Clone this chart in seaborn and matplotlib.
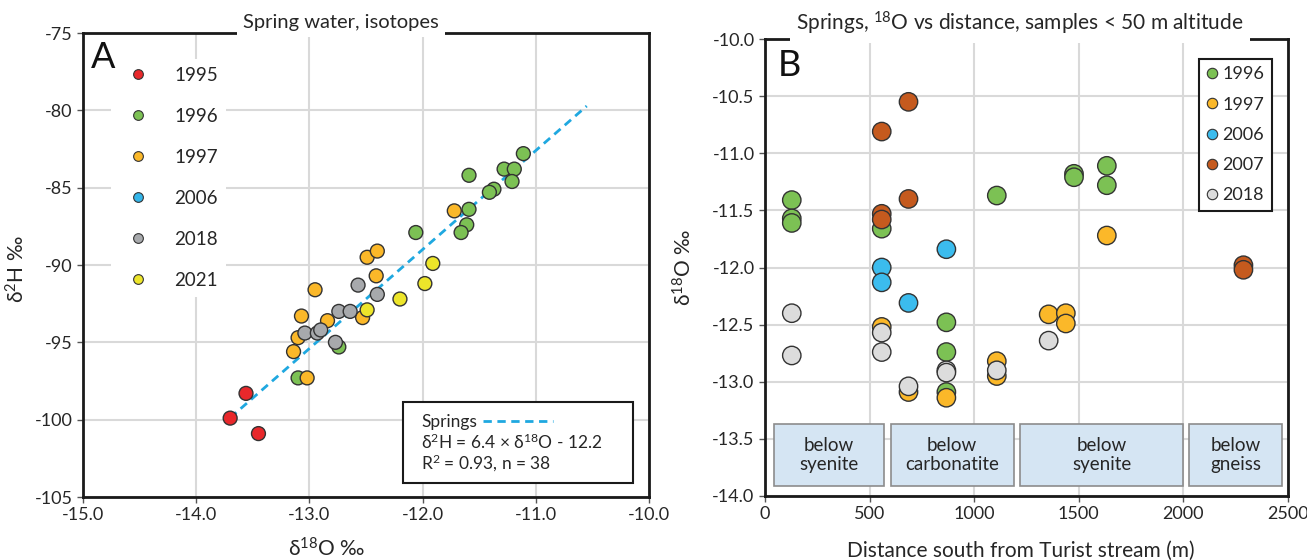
import matplotlib
matplotlib.use('Agg')
import matplotlib.pyplot as plt
from matplotlib.patches import Rectangle
from matplotlib.lines import Line2D
from matplotlib.ticker import FormatStrFormatter, MultipleLocator
import seaborn as sns
import pandas as pd

# ---- panel A: spring water isotopes (d18O vs d2H) ----
o18_1995 = [-13.70, -13.56, -13.45]
h2_1995 = [-99.9, -98.3, -100.9]
o18_1996 = [-11.11, -11.28, -11.19, -11.21, -11.59, -11.37, -11.41, -11.59, -11.61, -11.66, -12.06, -12.74, -13.10]
h2_1996 = [-82.8, -83.8, -83.8, -84.6, -84.2, -85.1, -85.3, -86.4, -87.4, -87.9, -87.9, -95.3, -97.3]
o18_1997 = [-11.72, -12.49, -12.40, -12.41, -12.95, -13.07, -13.10, -13.14, -12.84, -12.53, -13.02]
h2_1997 = [-86.5, -89.5, -89.1, -90.7, -91.6, -93.3, -94.7, -95.6, -93.6, -93.4, -97.3]
o18_2018 = [-12.57, -12.40, -12.74, -12.64, -13.04, -12.93, -12.90, -12.77]
h2_2018 = [-91.3, -91.9, -93.0, -93.0, -94.4, -94.4, -94.2, -95.0]
o18_2021 = [-11.91, -11.98, -12.20, -12.49]
h2_2021 = [-89.9, -91.2, -92.2, -92.9]

a_years = ['1995', '1996', '1997', '2006', '2018', '2021']
fit_slope = 6.4
fit_intercept = -12.2
fit_x = [-13.7, -10.55]

# ---- panel B: d18O vs distance ----
b_1996_dist = [128, 128, 128, 558, 1108, 1477, 1477, 1634, 1634, 867, 867, 867]
b_1996_o18 = [-11.41, -11.57, -11.61, -11.66, -11.37, -11.18, -11.21, -11.11, -11.28, -12.48, -12.74, -13.09]
b_1997_dist = [1634, 558, 686, 867, 1108, 1108, 1356, 1438, 1438]
b_1997_o18 = [-11.72, -12.52, -13.09, -13.14, -12.82, -12.95, -12.41, -12.40, -12.49]
b_2006_dist = [867, 558, 558, 686]
b_2006_o18 = [-11.84, -12.00, -12.13, -12.31]
b_2007_dist = [686, 558, 686, 558, 558, 2287, 2287]
b_2007_o18 = [-10.55, -10.81, -11.40, -11.53, -11.58, -11.98, -12.02]
b_2018_dist = [128, 128, 558, 558, 686, 867, 867, 1108, 1356]
b_2018_o18 = [-12.40, -12.77, -12.57, -12.74, -13.04, -12.90, -12.92, -12.90, -12.64]

b_years = ['1996', '1997', '2006', '2007', '2018']
zone_labels = ['below\nsyenite', 'below\ncarbonatite', 'below\nsyenite', 'below\ngneiss']
zone_start = [41, 602, 1219, 2027]
zone_end = [569, 1188, 2000, 2472]

colors_a = {'1995': '#e8282b', '1996': '#7cc154', '1997': '#fbb829',
            '2006': '#33b5e9', '2018': '#a7a9ac', '2021': '#ede52a'}
colors_b = {'1996': '#7cc154', '1997': '#fbb829', '2006': '#3bbcee',
            '2007': '#c55a1e', '2018': '#dcdcdc'}

sns.set_style('white')
plt.rcParams['font.family'] = ['Lato', 'DejaVu Sans']
plt.rcParams['mathtext.default'] = 'regular'
plt.rcParams['axes.unicode_minus'] = False

df_a = pd.concat([
    pd.DataFrame({'o18': o18_1995, 'h2': h2_1995, 'year': '1995'}),
    pd.DataFrame({'o18': o18_1996, 'h2': h2_1996, 'year': '1996'}),
    pd.DataFrame({'o18': o18_1997, 'h2': h2_1997, 'year': '1997'}),
    pd.DataFrame({'o18': o18_2018, 'h2': h2_2018, 'year': '2018'}),
    pd.DataFrame({'o18': o18_2021, 'h2': h2_2021, 'year': '2021'}),
], ignore_index=True)

df_b = pd.concat([
    pd.DataFrame({'dist': b_1996_dist, 'o18': b_1996_o18, 'year': '1996'}),
    pd.DataFrame({'dist': b_1997_dist, 'o18': b_1997_o18, 'year': '1997'}),
    pd.DataFrame({'dist': b_2006_dist, 'o18': b_2006_o18, 'year': '2006'}),
    pd.DataFrame({'dist': b_2007_dist, 'o18': b_2007_o18, 'year': '2007'}),
    pd.DataFrame({'dist': b_2018_dist, 'o18': b_2018_o18, 'year': '2018'}),
], ignore_index=True)

fig = plt.figure(figsize=(13.07, 5.6), dpi=100)
ax1 = fig.add_axes([83 / 1307, 63 / 560, 566 / 1307, 464 / 560])
ax2 = fig.add_axes([765 / 1307, 64 / 560, 523 / 1307, 457 / 560])

edge = '#333333'
text_c = '#262626'

def style_axes(ax):
    ax.grid(True, color='#d9d9d9', lw=1.5)
    ax.set_axisbelow(True)
    for s in ax.spines.values():
        s.set_linewidth(2)
        s.set_color('#1a1a1a')
    ax.tick_params(direction='out', length=4, width=1, color='#555555',
                   labelsize=13, labelcolor=text_c, bottom=True, left=True)

# ---- panel A ----
sns.scatterplot(data=df_a, x='o18', y='h2', hue='year', palette=colors_a,
                s=100, edgecolor=edge, linewidth=1, legend=False, ax=ax1, zorder=3)
fit_df = pd.DataFrame({'x': fit_x, 'y': [fit_slope * v + fit_intercept for v in fit_x]})
sns.lineplot(data=fit_df, x='x', y='y', color='#1fa8e0', lw=2, ls=(0, (3, 2)), ax=ax1, zorder=2)

ax1.set_xlim(-15, -10)
ax1.set_ylim(-105, -75)
ax1.xaxis.set_major_locator(MultipleLocator(1))
ax1.yaxis.set_major_locator(MultipleLocator(5))
ax1.xaxis.set_major_formatter(FormatStrFormatter('%.1f'))
style_axes(ax1)
ax1.set_xlabel('δ$^{18}$O ‰', fontsize=15, color=text_c)
ax1.set_ylabel('δ$^{2}$H ‰', fontsize=15, color=text_c)
ax1.xaxis.set_label_coords(0.43, -0.086)
ax1.yaxis.set_label_coords(-0.097, 0.49)

ax1.annotate('Spring water, isotopes', xy=(0.456, 1), xycoords='axes fraction',
             xytext=(0, 3.5), textcoords='offset points', ha='center', va='baseline',
             fontsize=14.5, color=text_c, zorder=5, annotation_clip=False,
             bbox=dict(boxstyle='square,pad=0.3', fc='white', ec='none'))

handles_a = [Line2D([], [], marker='o', ls='', ms=7, mfc=colors_a[y], mec=edge, mew=0.8)
             for y in a_years]
leg_a = ax1.legend(handles_a, a_years, loc='upper left', bbox_to_anchor=(0.05, 0.945),
                   borderaxespad=0, frameon=True, framealpha=1, edgecolor='none',
                   fancybox=False, labelspacing=1.28, handlelength=2.0,
                   handletextpad=0.91, borderpad=0.45, fontsize=13.5)
for t in leg_a.get_texts():
    t.set_color(text_c)
ax1.text(-14.82, -76.6, 'A', fontsize=26, va='center', ha='center', color='#111111', zorder=6)

# fit annotation box
ax1.add_patch(Rectangle((-12.17, -104.09), 2.03, 5.24, fc='white', ec='#1a1a1a', lw=1.5, zorder=4))
ax1.text(-12.01, -100.15, 'Springs', fontsize=12.5, va='center', color=text_c, zorder=5)
ax1.plot([-11.47, -10.85], [-100.1, -100.1], color='#1fa8e0', lw=2, ls=(0, (3, 2)), zorder=5)
ax1.text(-12.01, -101.44, 'δ$^{2}$H = 6.4 × δ$^{18}$O - 12.2', fontsize=12.5, va='center',
         color=text_c, zorder=5)
ax1.text(-12.01, -102.86, 'R$^{2}$ = 0.93, n = 38', fontsize=12.5, va='center',
         color=text_c, zorder=5)

# ---- panel B ----
for x0, x1, lab in zip(zone_start, zone_end, zone_labels):
    ax2.add_patch(Rectangle((x0, -13.91), x1 - x0, 0.54, fc='#d5e5f3', ec='#8c8c8c',
                            lw=1.2, zorder=2))
    ax2.text((x0 + x1) / 2, -13.64, lab, ha='center', va='center', fontsize=13.5,
             color=text_c, linespacing=1.1, zorder=3)

sns.scatterplot(data=df_b, x='dist', y='o18', hue='year', palette=colors_b,
                s=175, edgecolor=edge, linewidth=1, legend=False, ax=ax2, zorder=3)

ax2.set_xlim(0, 2500)
ax2.set_ylim(-14, -10)
ax2.xaxis.set_major_locator(MultipleLocator(500))
ax2.yaxis.set_major_locator(MultipleLocator(0.5))
ax2.yaxis.set_major_formatter(FormatStrFormatter('%.1f'))
style_axes(ax2)
ax2.set_xlabel('Distance south from Turist stream (m)', fontsize=15, color=text_c)
ax2.set_ylabel('δ$^{18}$O ‰', fontsize=15, color=text_c)
ax2.xaxis.set_label_coords(0.49, -0.098)
ax2.yaxis.set_label_coords(-0.132, 0.5)

ax2.annotate('Springs, $^{18}$O vs distance, samples < 50 m altitude', xy=(0.488, 1),
             xycoords='axes fraction', xytext=(0, 6), textcoords='offset points',
             ha='center', va='baseline', fontsize=15, color=text_c, zorder=5,
             annotation_clip=False,
             bbox=dict(boxstyle='square,pad=0.3', fc='white', ec='none'))
ax2.text(115, -10.23, 'B', fontsize=26, va='center', ha='center', color='#111111')

handles_b = [Line2D([], [], marker='o', ls='', ms=7.5, mfc=colors_b[y], mec=edge, mew=0.8)
             for y in b_years]
leg_b = ax2.legend(handles_b, b_years, loc='upper right', bbox_to_anchor=(0.969, 0.956),
                   borderaxespad=0, frameon=True, framealpha=1, edgecolor='#1a1a1a',
                   fancybox=False, labelspacing=0.79, handletextpad=0.3, borderpad=0.4,
                   handlelength=0.6, fontsize=13)
leg_b.get_frame().set_linewidth(1.5)
for t in leg_b.get_texts():
    t.set_color(text_c)

fig.savefig('out.png', dpi=100)
